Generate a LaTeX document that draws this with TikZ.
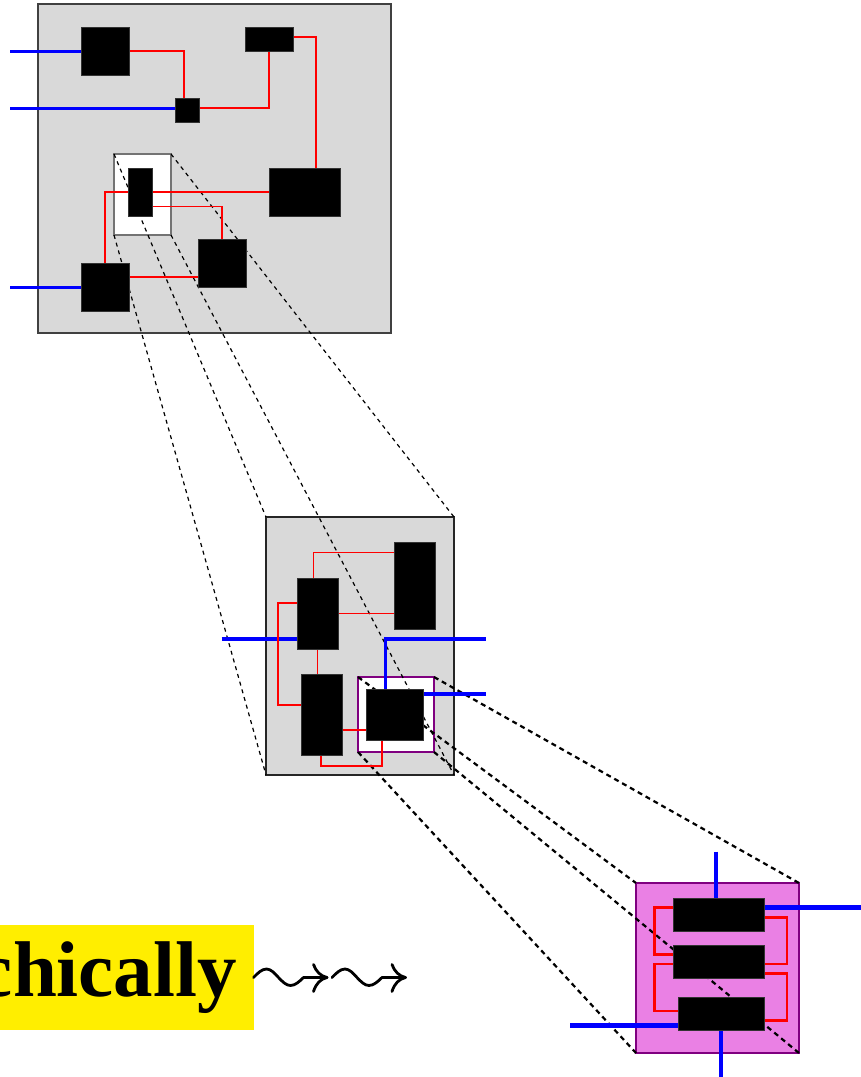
\documentclass[tikz,border=0pt]{standalone}
\usepackage{fontspec}
\newfontfamily\hfont{Liberation Serif}
\definecolor{boxgray}{RGB}{217,217,217}
\definecolor{pinkfill}{RGB}{234,128,228}
\definecolor{purpleedge}{RGB}{128,0,128}
\definecolor{yel}{RGB}{255,238,0}
\pgfdeclarelayer{bg}
\pgfdeclarelayer{wires}
\pgfsetlayers{bg,wires,main}
\tikzset{
  blk/.style 2 args={fill=black,draw=black!80,line width=0.5pt,inner sep=0pt,outer sep=0pt,minimum width=#1,minimum height=#2},
  frame/.style 2 args={inner sep=0pt,outer sep=0pt,minimum width=#1,minimum height=#2},
  wr/.style={red,line width=1.5pt},
  wb/.style={blue,line width=3pt},
  mr/.style={red,line width=1.6pt},
  mb/.style={blue,line width=3.3pt},
  pr/.style={red,line width=2.8pt},
  pb/.style={blue,line width=4.6pt},
  dz/.style={black,line width=1.2pt,dash pattern=on 4pt off 4pt},
  dzz/.style={black,line width=2.2pt,dash pattern=on 5pt off 4pt},
  sq/.style={black,line width=2.8pt,line cap=round,line join=round},
}
\newcommand{\squig}[1]{%
  \draw[sq,shift={(#1)}] (0,0) sin (13,-8.5) cos (25,0) sin (37,8) cos (50,0) -- (73.5,0);
  \draw[sq,shift={(#1)}] (60,-13) .. controls (62.5,-6) and (67,-1.5) .. (73.5,0) .. controls (67,1.5) and (62.5,6) .. (60,14);
}
\begin{document}
\begin{tikzpicture}[x=1pt,y=-1pt]
\useasboundingbox (0,0) rectangle (861,1077);
\clip (0,0) rectangle (861,1077);
% ---------- frames ----------
\begin{pgfonlayer}{bg}
\node[frame={353pt}{329pt},fill=boxgray,draw=black!75,line width=1.2pt] (T) at (214.5,168.5) {};
\node[frame={57pt}{81pt},fill=white,draw=black!55,line width=1.2pt] (W) at (142.5,194.5) {};
\node[frame={188pt}{258pt},fill=boxgray,draw=black!85,line width=1.2pt] (MB) at (360,646) {};
\node[frame={76pt}{75pt},fill=white,draw=purpleedge,line width=2.8pt] (PB) at (396,714.5) {};
\node[frame={163pt}{170pt},fill=pinkfill,draw=purpleedge,line width=2.2pt] (PK) at (717.5,968) {};
\draw[dz] (W.north west) -- (MB.north west);
\draw[dz] (W.north east) -- (MB.north east);
\draw[dz] (W.south west) -- (MB.south west);
\draw[dz] (W.south east) -- (MB.south east);
\draw[dzz] (PB.north west) -- (PK.north west);
\draw[dzz] (PB.north east) -- (PK.north east);
\draw[dzz] (PB.south west) -- (PK.south west);
\draw[dzz] (PB.south east) -- (PK.south east);
\end{pgfonlayer}
% ---------- top level blocks ----------
\node[blk={48pt}{48pt}] (A) at (105,51) {};
\node[blk={48pt}{24pt}] (B) at (269,39) {};
\node[blk={24pt}{24pt}] (C) at (187,110) {};
\node[blk={71pt}{48pt}] (D) at (304.5,192) {};
\node[blk={24pt}{48pt}] (E) at (140,192) {};
\node[blk={48pt}{48pt}] (F) at (222,263) {};
\node[blk={48pt}{48pt}] (G) at (105,287) {};
\coordinate (inA) at (10,51);
\coordinate (inC) at (10,108);
\coordinate (inG) at (10,287);
% ---------- middle blocks ----------
\node[blk={41pt}{71pt}] (M1) at (317.5,613.5) {};
\node[blk={41pt}{87pt}] (M2) at (414.5,585.5) {};
\node[blk={41pt}{81pt}] (M3) at (321.5,714.5) {};
\node[blk={57pt}{51pt}] (M4) at (394.5,714.5) {};
\coordinate (mIn) at (221.7,639);
\coordinate (mOut1) at (485.7,639);
\coordinate (mOut2) at (485.7,694);
% ---------- pink blocks ----------
\node[blk={91pt}{33pt}] (P1) at (718.5,914.5) {};
\node[blk={91pt}{33pt}] (P2) at (718.5,961.5) {};
\node[blk={86pt}{33pt}] (P3) at (721,1013.5) {};
\coordinate (pTop) at (716,851.7);
\coordinate (pRight) at (861,907.7);
\coordinate (pLeft) at (570,1025.7);
\coordinate (pBot) at (721,1077);
% ---------- wires ----------
\begin{pgfonlayer}{wires}
\draw[wb] (inA) -- (inA -| A.west);
\draw[wb] (inC) -- (inC -| C.west);
\draw[wb] (inG) -- (inG -| G.west);
\draw[wr] (A.east) -| ([xshift=-3pt]C.north);
\draw[wr] ([yshift=2pt]C.east) -| (B.south);
\draw[wr] ([yshift=2pt]B.east) -| ([xshift=11.5pt]D.north);
\draw[wr] (G.north) |- (D.west);
\draw[wr] ([yshift=-14.7pt]E.east) -| (F.north);
\draw[wr] ([yshift=10pt]G.east) -- ([yshift=10pt]G.east -| F.west);
% middle
\draw[mb] (mIn) -- (mIn -| M1.west);
\draw[mb] ([xshift=-8.8pt]M4.north) |- (mOut1);
\draw[mb] ([yshift=20.5pt]M4.east) -- (mOut2);
\draw[mr] ([xshift=-4.2pt]M1.north) |- ([yshift=33pt]M2.west);
\draw[mr] (M1.east) -- (M1.east -| M2.west);
\draw[mr] ([yshift=10.5pt]M1.west) -- ++(-19.3,0) |- ([yshift=9.5pt]M3.west);
\draw[mr] (M1.south) -- (M1.south |- M3.north);
\draw[mr] ([yshift=-15.5pt]M3.east) -- ([yshift=-15.5pt]M3.east -| M4.west);
\draw[mr] ([xshift=-0.5pt]M3.south) -- ++(0,11) -| ([xshift=-12.8pt]M4.south);
% pink
\draw[pb] (pTop) -- (pTop |- P1.north);
\draw[pb] ([yshift=6.8pt]P1.east) -- (pRight);
\draw[pb] (pLeft) -- (pLeft -| P3.west);
\draw[pb] (pBot |- P3.south) -- (pBot);
\draw[pr] ([yshift=6.8pt]P1.west) -- ++(-18.3,0) |- ([yshift=7.2pt]P2.west);
\draw[pr] ([yshift=-2.5pt]P2.west) -- ++(-18.3,0) |- ([yshift=2.5pt]P3.west);
\draw[pr] ([yshift=-2.8pt]P1.east) -- ++(23,0) |- ([yshift=-2.5pt]P2.east);
\draw[pr] ([yshift=-11.8pt]P2.east) -- ++(23,0) |- ([yshift=-7.2pt]P3.east);
\end{pgfonlayer}
% ---------- label ----------
\node[fill=yel,inner sep=17pt,anchor=east,font=\hfont\bfseries\fontsize{79pt}{80pt}\selectfont] (H) at (254,977.5) {Hierarchically};
\coordinate (S1) at (253.5,977.5);
\coordinate (S2) at (332,977.5);
\squig{S1}
\squig{S2}
\end{tikzpicture}
\end{document}
